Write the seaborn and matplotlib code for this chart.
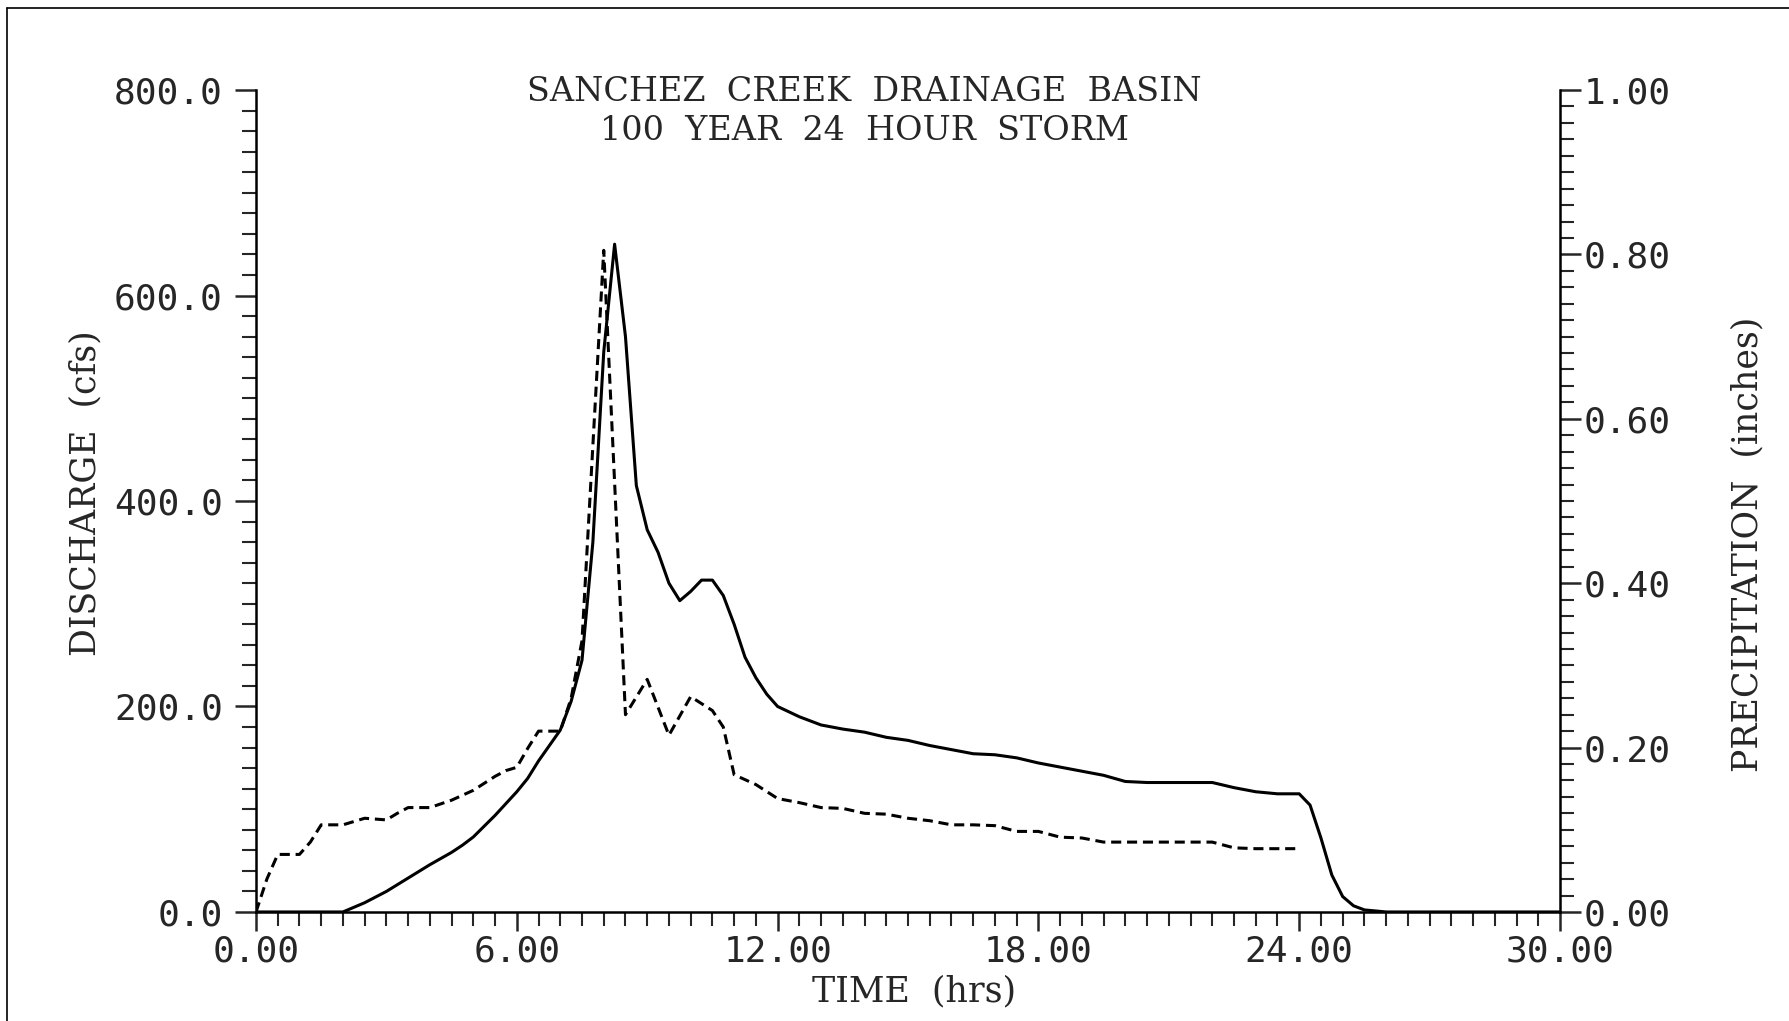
import matplotlib
matplotlib.use("Agg")
import matplotlib.pyplot as plt
from matplotlib.ticker import MultipleLocator, FormatStrFormatter
from matplotlib.lines import Line2D
import seaborn as sns
import pandas as pd

# Runoff hydrograph (time in hours, discharge in cfs)
flow_time = [0.0, 2.0, 2.5, 3.0, 3.5, 4.0, 4.5, 4.75, 5.0, 5.5, 6.0, 6.25, 6.5,
             7.0, 7.25, 7.5, 7.75, 8.0, 8.25, 8.5, 8.75, 9.0, 9.25, 9.5, 9.75,
             10.0, 10.25, 10.5, 10.75, 11.0, 11.25, 11.5, 11.75, 12.0, 12.5,
             13.0, 13.5, 14.0, 14.5, 15.0, 15.5, 16.0, 16.5, 17.0, 17.5, 18.0,
             18.5, 19.0, 19.5, 20.0, 20.5, 21.0, 21.5, 22.0, 22.5, 23.0, 23.5,
             24.0, 24.25, 24.5, 24.75, 25.0, 25.25, 25.5, 26.0, 30.0]
discharge = [0, 0, 9, 20, 33, 46, 58, 65, 73, 94, 117, 130, 147,
             177, 205, 245, 360, 545, 650, 560, 415, 372, 350, 320, 303,
             312, 323, 323, 308, 280, 248, 228, 212, 200, 190,
             182, 178, 175, 170, 167, 162, 158, 154, 153, 150, 145,
             141, 137, 133, 127, 126, 126, 126, 126, 121, 117, 115,
             115, 104, 72, 36, 15, 6, 2, 0, 0]

# Storm precipitation per time step (inches)
rain_time = [0.0, 0.25, 0.5, 1.0, 1.25, 1.5, 2.0, 2.5, 3.0, 3.25, 3.5, 4.0,
             4.5, 5.0, 5.5, 5.75, 6.0, 6.25, 6.5, 7.0, 7.25, 7.5, 8.0, 8.5,
             9.0, 9.5, 10.0, 10.5, 10.75, 11.0, 11.5, 12.0, 12.5, 13.0, 13.5,
             14.0, 14.5, 15.0, 15.5, 16.0, 16.5, 17.0, 17.5, 18.0, 18.5, 19.0,
             19.5, 20.0, 20.5, 21.0, 21.5, 22.0, 22.5, 23.0, 23.5, 24.0]
precip = [0.0, 0.04, 0.07, 0.07, 0.085, 0.106, 0.106, 0.114, 0.112, 0.12, 0.127, 0.127,
          0.136, 0.148, 0.165, 0.172, 0.176, 0.199, 0.22, 0.22, 0.26, 0.33, 0.805, 0.24,
          0.283, 0.215, 0.262, 0.245, 0.225, 0.167, 0.155, 0.138, 0.133, 0.127, 0.126,
          0.12, 0.119, 0.114, 0.111, 0.106, 0.106, 0.105, 0.098, 0.098, 0.091, 0.090,
          0.085, 0.085, 0.085, 0.085, 0.085, 0.085, 0.078, 0.077, 0.077, 0.077]

title_lines = ["SANCHEZ  CREEK  DRAINAGE  BASIN", "100  YEAR  24  HOUR  STORM"]
x_label = "TIME  (hrs)"
y_label = "DISCHARGE  (cfs)"
y2_label = "PRECIPITATION  (inches)"

flow = pd.DataFrame({"time": flow_time, "discharge": discharge})
rain = pd.DataFrame({"time": rain_time, "precip": precip})

sns.set_theme(style="white")
plt.rcParams["font.family"] = ["DejaVu Sans Mono", "DejaVu Sans"]

fig = plt.figure(figsize=(17.89, 10.21), dpi=100)
ax = fig.add_axes([0.1431, 0.1068, 0.7289, 0.8050])
ax2 = ax.twinx()

sns.lineplot(data=flow, x="time", y="discharge", ax=ax, color="black",
             linewidth=2.2, estimator=None, sort=False)
sns.lineplot(data=rain, x="time", y="precip", ax=ax2, color="black",
             linewidth=2.2, estimator=None, sort=False, dashes=False)
ax2.lines[0].set_dashes((3.3, 1.9))

ax.set_xlim(0, 30)
ax.set_ylim(0, 800)
ax2.set_ylim(0, 1.0)

for a in (ax, ax2):
    a.set_facecolor("none")
    a.spines["top"].set_visible(False)
    for s in a.spines.values():
        s.set_color("black")
        s.set_linewidth(1.8)
    a.grid(False)
ax.spines["right"].set_visible(False)
ax2.spines["left"].set_visible(False)
ax2.spines["bottom"].set_visible(False)

label_size = 26
ax.xaxis.set_major_locator(MultipleLocator(6))
ax.xaxis.set_minor_locator(MultipleLocator(0.5))
ax.xaxis.set_major_formatter(FormatStrFormatter("%.2f"))
ax.yaxis.set_major_locator(MultipleLocator(200))
ax.yaxis.set_minor_locator(MultipleLocator(20))
ax.yaxis.set_major_formatter(FormatStrFormatter("%.1f"))
ax2.yaxis.set_major_locator(MultipleLocator(0.2))
ax2.yaxis.set_minor_locator(MultipleLocator(0.02))
ax2.yaxis.set_major_formatter(FormatStrFormatter("%.2f"))

ax.tick_params(axis="x", which="major", direction="out", length=14, width=1.8,
               pad=2, labelsize=label_size, bottom=True, top=False)
ax.tick_params(axis="x", which="minor", direction="out", length=10, width=1.5,
               bottom=True, top=False)
ax.tick_params(axis="y", which="major", direction="out", length=15, width=1.8,
               pad=9, labelsize=label_size, left=True, right=False)
ax.tick_params(axis="y", which="minor", direction="out", length=10, width=1.5,
               left=True, right=False)
ax2.tick_params(axis="y", which="major", direction="out", length=15, width=1.8,
                pad=2, labelsize=label_size, right=True, left=False)
ax2.tick_params(axis="y", which="minor", direction="out", length=10, width=1.5,
                right=True, left=False)

serif = ["DejaVu Serif"]
ax.set_xlabel(x_label, fontsize=25, family=serif)
ax.set_ylabel(y_label, fontsize=25, family=serif)
ax2.set_ylabel(y2_label, fontsize=25, family=serif, rotation=90)
ax.xaxis.set_label_coords(0.505, -0.097)
ax.yaxis.set_label_coords(-0.131, 0.51)
ax2.yaxis.set_label_coords(1.144, 0.447)
ax.xaxis.label.set_va("center")
ax.yaxis.label.set_va("center")
ax2.yaxis.label.set_va("center")

fig.text(0.483, 0.910, title_lines[0], ha="center", va="center",
         fontsize=24, family=serif)
fig.text(0.483, 0.872, title_lines[1], ha="center", va="center",
         fontsize=24, family=serif)

# sheet border
fig.add_artist(Line2D([0.004, 0.004], [0.0, 0.992], transform=fig.transFigure,
                      color="black", linewidth=1.2))
fig.add_artist(Line2D([0.004, 1.0], [0.992, 0.992], transform=fig.transFigure,
                      color="black", linewidth=1.2))

fig.savefig("out.png", dpi=100, facecolor="white")
